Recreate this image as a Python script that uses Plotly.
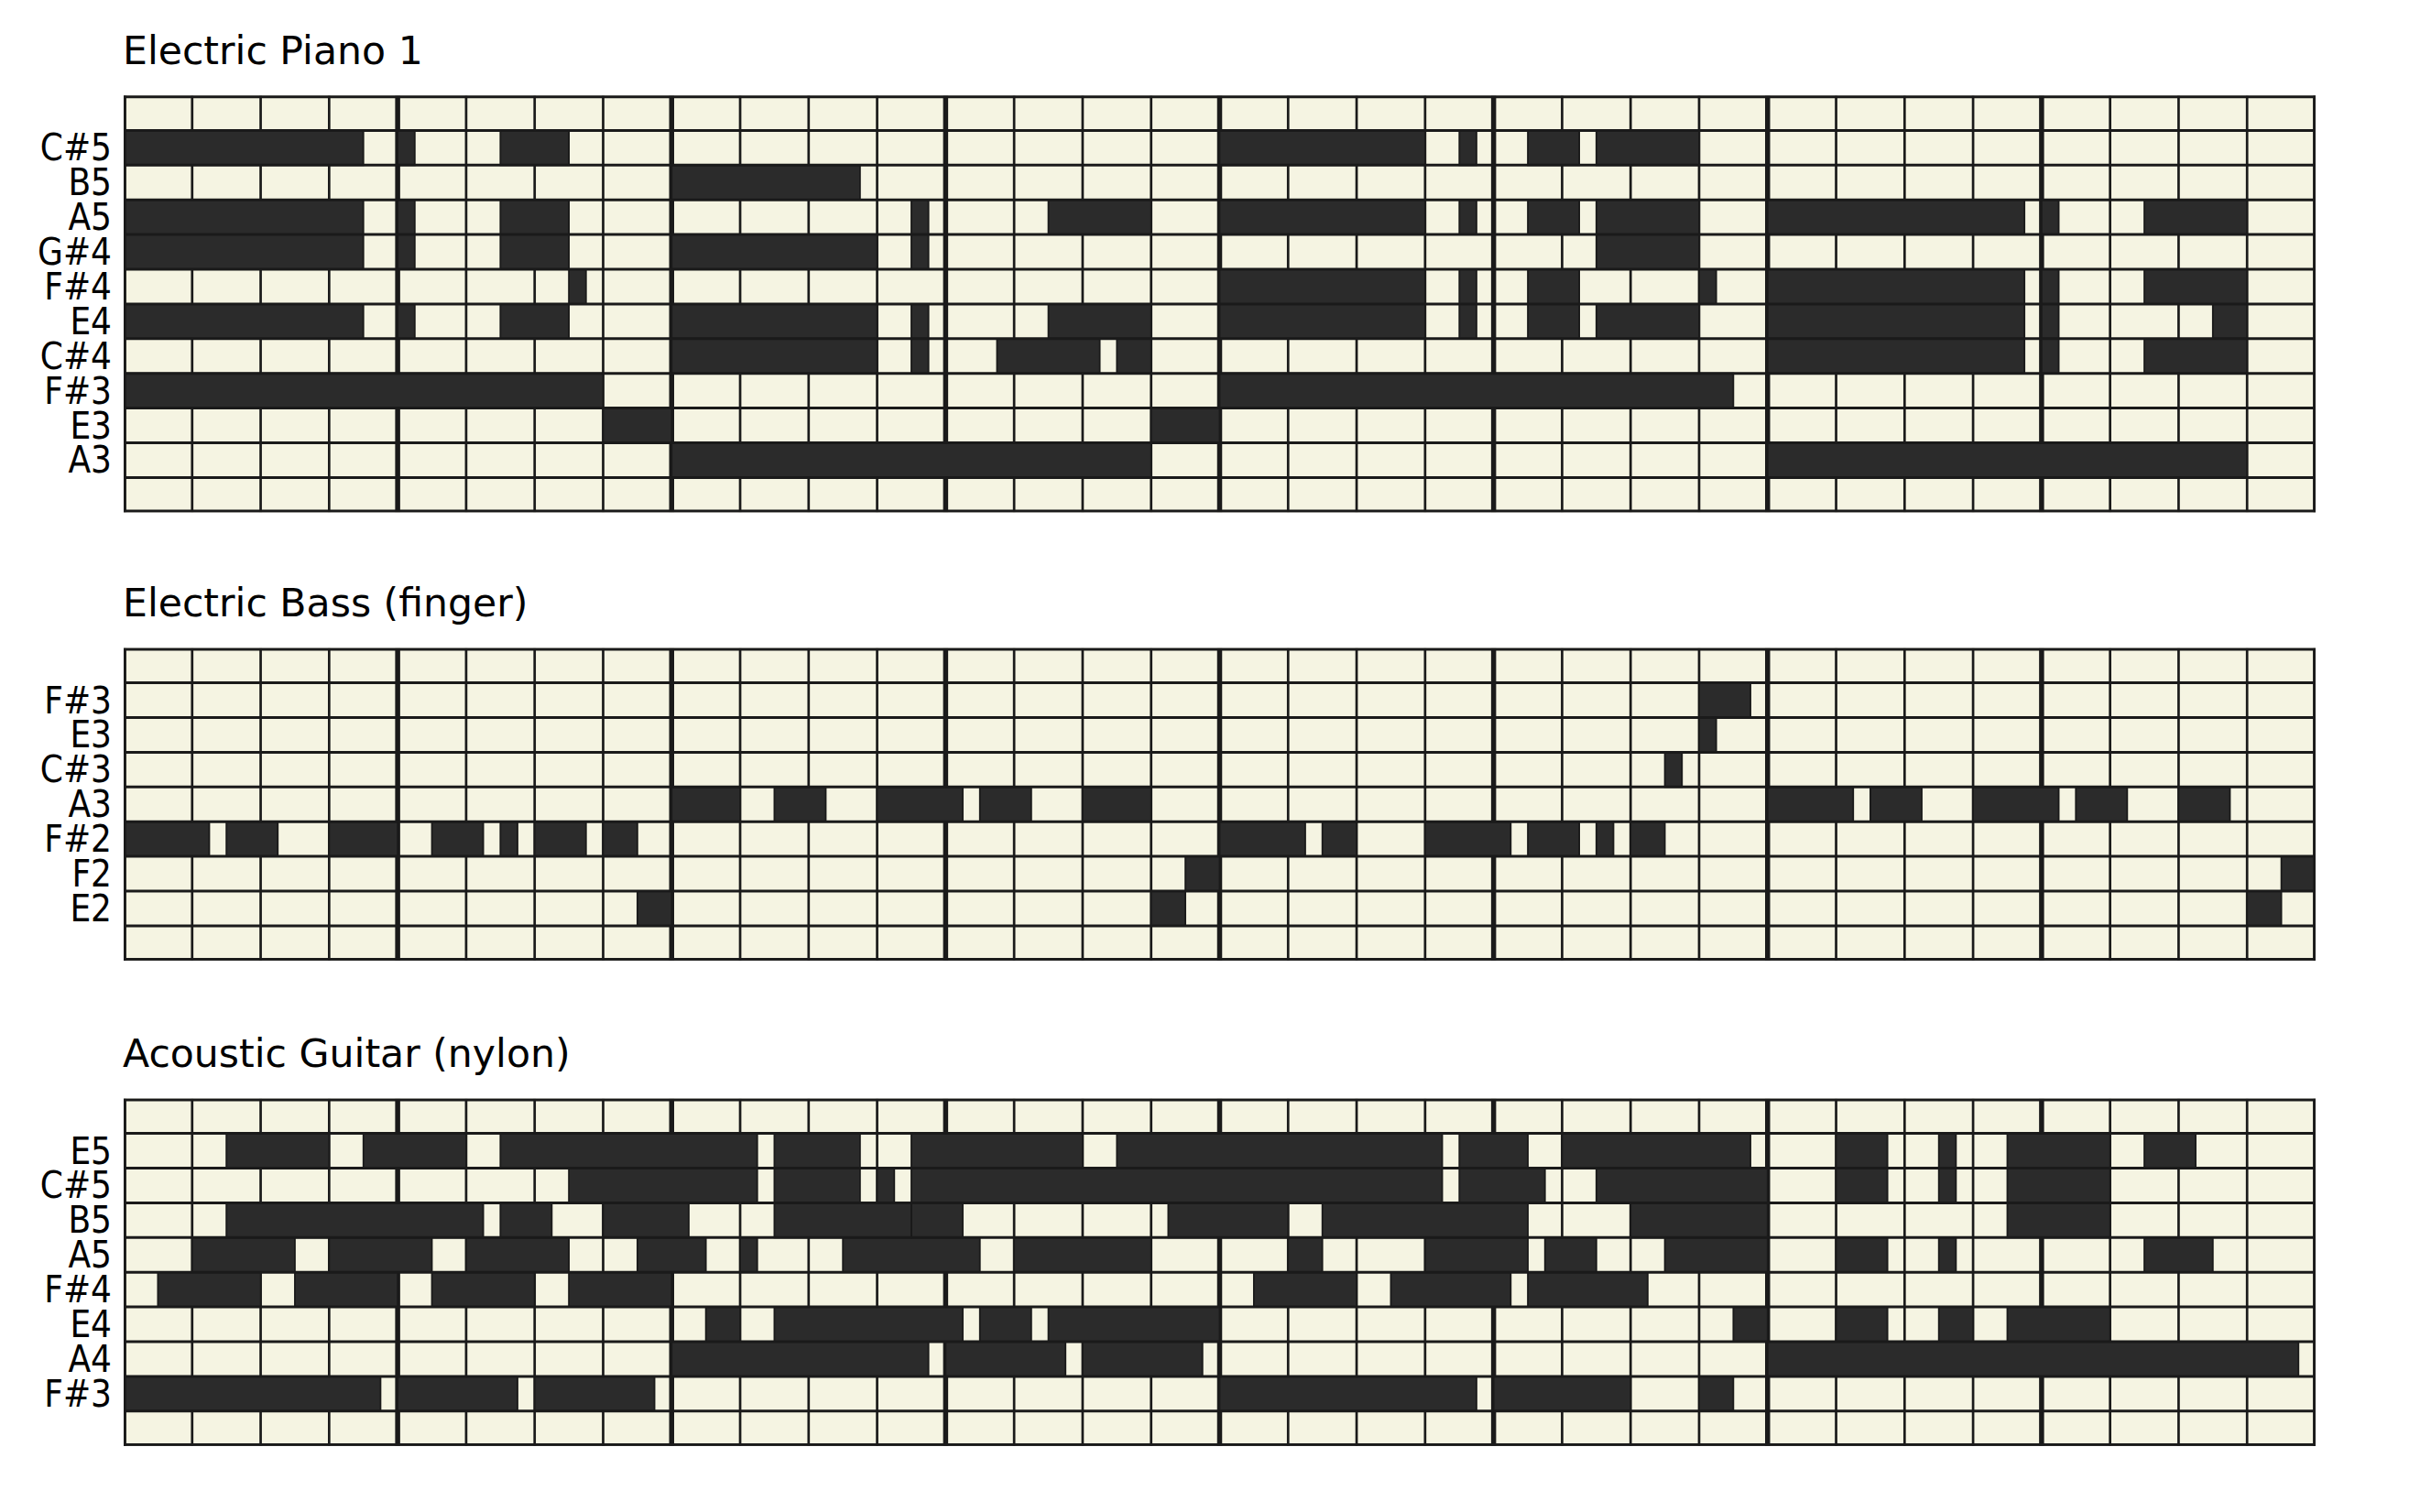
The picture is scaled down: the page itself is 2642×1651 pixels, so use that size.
import plotly.graph_objects as go

# ---------------- data ----------------
N_BEATS = 32
BEATS_PER_BAR = 4

titles = ["Electric Piano 1", "Electric Bass (finger)", "Acoustic Guitar (nylon)"]

piano_pitches = ["C#5", "B5", "A5", "G#4", "F#4", "E4", "C#4", "F#3", "E3", "A3"]
piano_notes = [
    [[0, 3.5], [4, 4.25], [5.5, 6.5], [16, 19], [19.5, 19.75], [20.5, 21.25], [21.5, 23]],
    [[8, 10.75]],
    [[0, 3.5], [4, 4.25], [5.5, 6.5], [11.5, 11.75], [13.5, 15], [16, 19], [19.5, 19.75],
     [20.5, 21.25], [21.5, 23], [24, 27.75], [28, 28.25], [29.5, 31]],
    [[0, 3.5], [4, 4.25], [5.5, 6.5], [8, 11], [11.5, 11.75], [21.5, 23]],
    [[6.5, 6.75], [16, 19], [19.5, 19.75], [20.5, 21.25], [23, 23.25], [24, 27.75], [28, 28.25], [29.5, 31]],
    [[0, 3.5], [4, 4.25], [5.5, 6.5], [8, 11], [11.5, 11.75], [13.5, 15], [16, 19], [19.5, 19.75],
     [20.5, 21.25], [21.5, 23], [24, 27.75], [28, 28.25], [30.5, 31]],
    [[8, 11], [11.5, 11.75], [12.75, 14.25], [14.5, 15], [24, 27.75], [28, 28.25], [29.5, 31]],
    [[0, 7], [16, 23.5]],
    [[7, 8], [15, 16]],
    [[8, 15], [24, 31]],
]

bass_pitches = ["F#3", "E3", "C#3", "A3", "F#2", "F2", "E2"]
bass_notes = [
    [[23, 23.75]],
    [[23, 23.25]],
    [[22.5, 22.75]],
    [[8, 9], [9.5, 10.25], [11, 12.25], [12.5, 13.25], [14, 15], [24, 25.25], [25.5, 26.25],
     [27, 28.25], [28.5, 29.25], [30, 30.75]],
    [[0, 1.25], [1.5, 2.25], [3, 4], [4.5, 5.25], [5.5, 5.75], [6, 6.75], [7, 7.5], [16, 17.25],
     [17.5, 18], [19, 20.25], [20.5, 21.25], [21.5, 21.75], [22, 22.5]],
    [[15.5, 16], [31.5, 32]],
    [[7.5, 8], [15, 15.5], [31, 31.5]],
]

guitar_pitches = ["E5", "C#5", "B5", "A5", "F#4", "E4", "A4", "F#3"]
guitar_notes = [
    [[1.5, 3], [3.5, 5], [5.5, 9.25], [9.5, 10.75], [11.5, 14], [14.5, 19.25], [19.5, 20.5],
     [21, 23.75], [25, 25.75], [26.5, 26.75], [27.5, 29], [29.5, 30.25]],
    [[6.5, 9.25], [9.5, 10.75], [11, 11.25], [11.5, 19.25], [19.5, 20.75], [21.5, 24], [25, 25.75],
     [26.5, 26.75], [27.5, 29]],
    [[1.5, 5.25], [5.5, 6.25], [7, 8.25], [9.5, 11.5], [11.5, 12.25], [15.25, 17], [17.5, 20.5],
     [22, 24], [27.5, 29]],
    [[1, 2.5], [3, 4.5], [5, 6.5], [7.5, 8.5], [9, 9.25], [10.5, 12.5], [13, 15], [17, 17.5],
     [19, 20.5], [20.75, 21.5], [22.5, 24], [25, 25.75], [26.5, 26.75], [29.5, 30.5]],
    [[0.5, 2], [2.5, 4], [4.5, 6], [6.5, 8], [16.5, 18], [18.5, 20.25], [20.5, 22.25]],
    [[8.5, 9], [9.5, 12.25], [12.5, 13.25], [13.5, 16], [23.5, 24], [25, 25.75], [26.5, 27], [27.5, 29]],
    [[8, 11.75], [12, 13.75], [14, 15.75], [24, 31.75]],
    [[0, 3.75], [4, 5.75], [6, 7.75], [16, 19.75], [20, 22], [23, 23.5]],
]

# ---------------- style / layout ----------------
W, H = 2642, 1651
CREAM = "#F5F4E2"
NOTE = "#2B2B2B"
LINE = "#1A1A1A"
FONT = "DejaVu Sans"
LABEL_FONT = "DejaVu Sans Condensed, DejaVu Sans"

X_LEFT, X_RIGHT = 135, 2528
panel_tops = [104.5, 707.7, 1199.7]
ROW_PX = 37.9
TITLE_OFFSET = 50

panels = [
    (titles[0], piano_pitches, piano_notes),
    (titles[1], bass_pitches, bass_notes),
    (titles[2], guitar_pitches, guitar_notes),
]

fig = go.Figure()
layout = dict(
    width=W, height=H,
    margin=dict(l=0, r=0, t=0, b=0),
    paper_bgcolor="white", plot_bgcolor=CREAM,
    showlegend=False,
    annotations=[],
)

for i, (title, pitches, notes) in enumerate(panels):
    rows = [""] + pitches + [""]
    n = len(rows)
    top = panel_tops[i]
    bottom = top + n * ROW_PX
    sfx = "" if i == 0 else str(i + 1)
    xa, ya = "x" + sfx, "y" + sfx

    # cells
    fig.add_trace(go.Heatmap(
        z=[[0] * N_BEATS for _ in rows],
        x=[b + 0.5 for b in range(N_BEATS)], y=list(range(n)),
        colorscale=[[0, CREAM], [1, CREAM]], zmin=0, zmax=1,
        showscale=False, hoverinfo="skip", xaxis=xa, yaxis=ya))

    # thin beat lines
    bx, by = [], []
    for b in range(N_BEATS + 1):
        if b % BEATS_PER_BAR:
            bx += [b, b, None]
            by += [-0.5, n - 0.5, None]
    fig.add_trace(go.Scatter(x=bx, y=by, mode="lines", line=dict(color=LINE, width=2.7),
                             hoverinfo="skip", xaxis=xa, yaxis=ya))

    # bar lines
    mx, my = [], []
    for b in range(0, N_BEATS + 1, BEATS_PER_BAR):
        mx += [b, b, None]
        my += [-0.5, n - 0.5, None]
    fig.add_trace(go.Scatter(x=mx, y=my, mode="lines", line=dict(color=LINE, width=5.5),
                             hoverinfo="skip", xaxis=xa, yaxis=ya))

    # notes
    nx, ny = [], []
    for r, segs in enumerate(notes, start=1):
        for s, e in segs:
            nx += [s, e, e, s, s, None]
            ny += [r - 0.5, r - 0.5, r + 0.5, r + 0.5, r - 0.5, None]
    fig.add_trace(go.Scatter(x=nx, y=ny, mode="lines", fill="toself", fillcolor=NOTE,
                             line=dict(color=LINE, width=1.8), hoverinfo="skip",
                             xaxis=xa, yaxis=ya))

    # horizontal row lines + frame (on top)
    hx, hy = [], []
    for r in range(n + 1):
        hx += [0, N_BEATS, None]
        hy += [r - 0.5, r - 0.5, None]
    fig.add_trace(go.Scatter(x=hx, y=hy, mode="lines", line=dict(color=LINE, width=3),
                             hoverinfo="skip", xaxis=xa, yaxis=ya))
    fx = [0, 0, None, N_BEATS, N_BEATS, None, 0, N_BEATS, None, 0, N_BEATS]
    fy = [-0.5, n - 0.5, None, -0.5, n - 0.5, None, -0.5, -0.5, None, n - 0.5, n - 0.5]
    fig.add_trace(go.Scatter(x=fx, y=fy, mode="lines", line=dict(color=LINE, width=5.5),
                             hoverinfo="skip", xaxis=xa, yaxis=ya))

    layout["xaxis" + sfx] = dict(
        domain=[X_LEFT / W, X_RIGHT / W], range=[0, N_BEATS], anchor=ya,
        showgrid=False, zeroline=False, showticklabels=False, ticks="", fixedrange=True)
    layout["yaxis" + sfx] = dict(
        domain=[1 - bottom / H, 1 - top / H], range=[n - 0.5, -0.5], anchor=xa,
        tickmode="array", tickvals=list(range(n)), ticktext=rows,
        tickfont=dict(family=LABEL_FONT, size=40, color="black"),
        ticks="outside", ticklen=4, tickcolor="rgba(0,0,0,0)",
        showgrid=False, zeroline=False, fixedrange=True)
    layout["annotations"].append(dict(
        text=title, xref="paper", yref="paper", x=(X_LEFT - 3) / W, y=1 - (top - TITLE_OFFSET) / H,
        xanchor="left", yanchor="middle", showarrow=False,
        font=dict(family=FONT, size=42.6, color="black")))

fig.update_layout(**layout)
fig.write_html("out.html")
